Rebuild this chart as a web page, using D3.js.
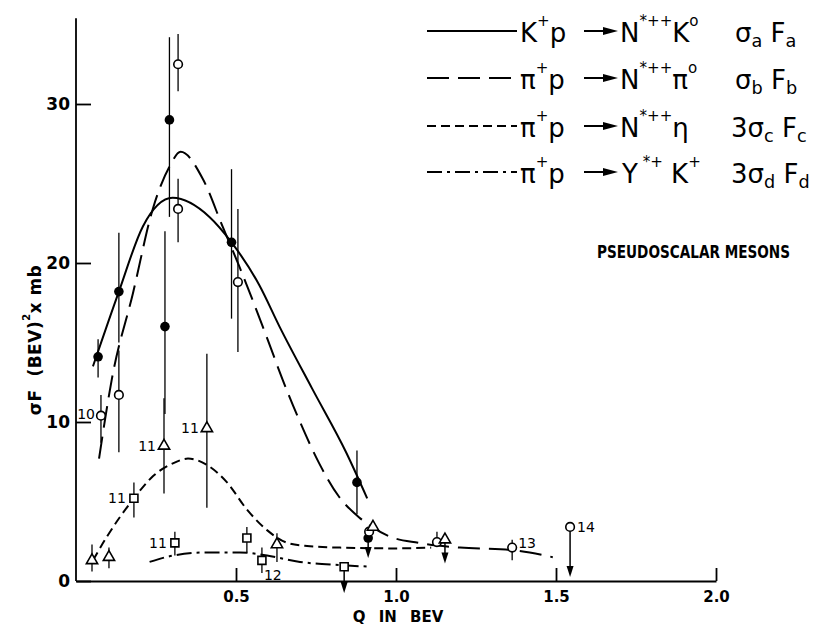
<!DOCTYPE html>
<html>
<head>
<meta charset="utf-8">
<script src="https://cdn.jsdelivr.net/npm/d3@7"></script>
<style>
  body { margin: 0; background: #fff; }
  text { font-family: "DejaVu Sans", sans-serif; fill: #000; }
</style>
</head>
<body>
<div id="chart"></div>
<script>
// values: Q in BEV, sigma*F in (BEV)^2 x mb

// fitted curves
var kCurve = [[0.053,13.5],[0.134,18.2],[0.209,22.3],[0.302,24.1],[0.417,22.9],[0.486,21.3],
  [0.573,18.6],[0.636,16.0],[0.738,12.1],[0.844,8.1],[0.910,5.2]];
var piCurve = [[0.072,7.7],[0.112,12.7],[0.178,18.1],[0.240,23.4],[0.293,26.1],[0.327,27.0],
  [0.396,25.3],[0.458,22.3],[0.510,19.8],[0.595,15.4],[0.645,12.7],[0.698,10.1],[0.760,7.4],
  [0.822,5.3],[0.885,4.0],[0.925,3.4],[0.980,2.8],[1.070,2.4],[1.200,2.1],[1.360,1.95],[1.490,1.5]];
var etaCurve = [[0.053,1.3],[0.097,2.8],[0.181,5.2],[0.241,6.6],[0.303,7.4],[0.350,7.7],
  [0.409,7.3],[0.472,6.2],[0.534,4.5],[0.597,3.2],[0.660,2.4],[0.722,2.2],[0.825,2.1],
  [1.000,2.05],[1.110,2.1]];
var yCurve = [[0.230,1.2],[0.303,1.6],[0.409,1.8],[0.512,1.8],[0.597,1.6],[0.700,1.2],
  [0.825,1.0],[0.920,0.9]];

// points: q, value, error low, error high, upper-limit arrow to, reference
var filledPts = [
  [0.069, 14.1, 12.8, 15.2],
  [0.134, 18.2, 15.0, 21.9],
  [0.278, 16.0, 10.5, 22.0],
  [0.292, 29.0, 22.9, 34.2],
  [0.486, 21.3, 16.5, 25.9],
  [0.878, 6.2, 4.2, 8.2],
  [0.913, 2.7, null, null, 1.45]
];
var openPts = [
  [0.078, 10.4, 8.7, 11.7, null, "10"],
  [0.134, 11.7, 8.1, 14.5],
  [0.319, 32.5, 30.8, 34.4],
  [0.319, 23.4, 21.3, 25.3],
  [0.506, 18.8, 14.4, 23.4],
  [0.916, 3.1],
  [1.128, 2.45, 2.45, 3.1],
  [1.363, 2.1, 1.3, 2.6, null, "13"],
  [1.544, 3.4, null, null, 0.25, "14"]
];
var trianglePts = [
  [0.050, 1.3, 0.6, 2.3],
  [0.103, 1.5, 0.8, 2.1],
  [0.275, 8.5, 5.5, 11.5, null, "11"],
  [0.409, 9.6, 4.6, 14.3, null, "11"],
  [0.628, 2.3, 1.2, 3.0],
  [0.928, 3.4],
  [1.153, 2.6, null, null, 1.1]
];
var squarePts = [
  [0.181, 5.2, 4.0, 6.2, null, "11"],
  [0.309, 2.4, 1.6, 3.1, null, "11"],
  [0.534, 2.7, 1.8, 3.4],
  [0.581, 1.3, 0.5, 2.1, null, "12"],
  [0.838, 0.9, null, null, -0.75]
];

var xTicks = [0.5, 1.0, 1.5, 2.0];
var yTicks = [0, 10, 20, 30];
var yMax = 35.4;

// legend text: [text, 1 = superscript, -1 = subscript]
var reactionIn = [
  [["K"], ["+", 1], ["p"]],
  [["π"], ["+", 1], ["p"]],
  [["π"], ["+", 1], ["p"]],
  [["π"], ["+", 1], ["p"]]
];
var reactionOut = [
  [["N"], ["*++", 1], ["K"], ["o", 1]],
  [["N"], ["*++", 1], ["π"], ["o", 1]],
  [["N"], ["*++", 1], ["η"]],
  [["Y"], [" *+", 1], [" K"], ["+", 1]]
];
var weights = [
  [["σ"], ["a", -1], [" F"], ["a", -1]],
  [["σ"], ["b", -1], [" F"], ["b", -1]],
  [["3σ"], ["c", -1], [" F"], ["c", -1]],
  [["3σ"], ["d", -1], [" F"], ["d", -1]]
];
var yTitle = [["σF  (BEV)"], ["2", 1], ["x mb"]];

var width = 814, height = 629;

var svg = d3.select("#chart")
  .append("svg")
    .attr("width", width)
    .attr("height", height);

var x = d3.scaleLinear().domain([0, 2]).range([76, 716]);
var y = d3.scaleLinear().domain([0, 30]).range([581, 104]);

// dash styles for the four reactions
var dashes = [null, "22,9", "9,5", "15,5,3,5"];

// axes
var yAxis = svg.append("g")
    .attr("transform", "translate(" + x(0) + ",0)")
    .call(d3.axisLeft(y).tickValues(yTicks).tickSizeInner(-15).tickSizeOuter(0)
      .tickPadding(6).tickFormat(d3.format("d")));
yAxis.select(".domain").remove();
yAxis.selectAll("line").attr("stroke-width", 1.8);
yAxis.selectAll("text")
    .attr("font-size", 17).attr("font-weight", "bold")
    .attr("font-family", "DejaVu Sans, sans-serif");

svg.append("line")
    .attr("x1", x(0)).attr("x2", x(0))
    .attr("y1", y(0)).attr("y2", y(yMax))
    .attr("stroke", "#000").attr("stroke-width", 1.8);

var xAxis = svg.append("g")
    .attr("transform", "translate(0," + y(0) + ")")
    .call(d3.axisBottom(x).tickValues(xTicks).tickSizeInner(-13).tickSizeOuter(0)
      .tickPadding(10).tickFormat(d3.format(".1f")));
xAxis.select(".domain").attr("stroke-width", 1.8);
xAxis.selectAll("line").attr("stroke-width", 1.8);
xAxis.selectAll("text")
    .attr("font-size", 15).attr("font-weight", "bold")
    .attr("font-family", "DejaVu Sans, sans-serif");

svg.append("text")
    .attr("x", 398).attr("y", 622)
    .attr("text-anchor", "middle")
    .attr("font-size", 15).attr("font-weight", "bold")
    .style("word-spacing", "8px")
    .text("Q IN BEV");

// rich text with super/subscripts
function addRich(parent, parts, size) {
  var shift = 0;
  parts.forEach(function(p) {
    var want = p[1] == 1 ? -0.62 * size : (p[1] == -1 ? 0.2 * size : 0);
    var fs = p[1] == 1 ? size * 0.58 : (p[1] == -1 ? size * 0.68 : size);
    parent.append("tspan")
      .attr("dy", want - shift)
      .attr("font-size", fs)
      .style("white-space", "pre")
      .text(p[0]);
    shift = want;
  });
  return parent;
}

var ty = svg.append("text")
    .attr("transform", "translate(41,340) rotate(-90)")
    .attr("text-anchor", "middle")
    .attr("font-size", 17).attr("font-weight", "bold")
    .style("letter-spacing", "0.5px")
    .style("white-space", "pre");
addRich(ty, yTitle, 17);

// curves
var line = d3.line()
    .x(function(d) { return x(d[0]); })
    .y(function(d) { return y(d[1]); })
    .curve(d3.curveMonotoneX);

[kCurve, piCurve, etaCurve, yCurve].forEach(function(c, i) {
  svg.append("path")
    .datum(c)
    .attr("fill", "none")
    .attr("stroke", "#000")
    .attr("stroke-width", 2)
    .attr("stroke-dasharray", dashes[i])
    .attr("d", line);
});

// error bars and upper limits
function drawBars(rows) {
  var withBar = rows.filter(function(d) { return d[2] != null; });
  svg.selectAll(null).data(withBar).enter()
    .append("line")
      .attr("x1", function(d) { return x(d[0]); })
      .attr("x2", function(d) { return x(d[0]); })
      .attr("y1", function(d) { return y(d[2]); })
      .attr("y2", function(d) { return y(d[3]); })
      .attr("stroke", "#000").attr("stroke-width", 1.3);

  var limits = rows.filter(function(d) { return d[4] != null; });
  svg.selectAll(null).data(limits).enter()
    .append("line")
      .attr("x1", function(d) { return x(d[0]); })
      .attr("x2", function(d) { return x(d[0]); })
      .attr("y1", function(d) { return y(d[1]); })
      .attr("y2", function(d) { return y(d[4]) - 8; })
      .attr("stroke", "#000").attr("stroke-width", 1.5);
  svg.selectAll(null).data(limits).enter()
    .append("path")
      .attr("d", function(d) {
        var cx = x(d[0]), cy = y(d[4]);
        return "M" + (cx - 3.5) + "," + (cy - 11) + "L" + (cx + 3.5) + "," + (cy - 11) + "L" + cx + "," + cy + "Z";
      })
      .attr("fill", "#000");
}

[filledPts, openPts, trianglePts, squarePts].forEach(drawBars);

// markers
svg.selectAll(".filled").data(filledPts).enter()
  .append("circle")
    .attr("cx", function(d) { return x(d[0]); })
    .attr("cy", function(d) { return y(d[1]); })
    .attr("r", 4.8)
    .attr("fill", "#000");

svg.selectAll(".open").data(openPts).enter()
  .append("circle")
    .attr("cx", function(d) { return x(d[0]); })
    .attr("cy", function(d) { return y(d[1]); })
    .attr("r", 4.3)
    .attr("fill", "#fff")
    .attr("stroke", "#000").attr("stroke-width", 1.6);

svg.selectAll(".tri").data(trianglePts).enter()
  .append("path")
    .attr("transform", function(d) { return "translate(" + x(d[0]) + "," + y(d[1]) + ")"; })
    .attr("d", d3.symbol(d3.symbolTriangle).size(55))
    .attr("fill", "#fff")
    .attr("stroke", "#000").attr("stroke-width", 1.6);

svg.selectAll(".sq").data(squarePts).enter()
  .append("path")
    .attr("transform", function(d) { return "translate(" + x(d[0]) + "," + y(d[1]) + ")"; })
    .attr("d", d3.symbol(d3.symbolSquare).size(64))
    .attr("fill", "#fff")
    .attr("stroke", "#000").attr("stroke-width", 1.6);

// reference numbers next to points
var refPlace = {
  "10": {dx: -6, dy: 3, anchor: "end"},
  "11": {dx: -8, dy: 5, anchor: "end"},
  "12": {dx: 2, dy: 20, anchor: "start"},
  "13": {dx: 6, dy: 0, anchor: "start"},
  "14": {dx: 7, dy: 5, anchor: "start"}
};
var refs = [].concat(filledPts, openPts, trianglePts, squarePts)
    .filter(function(d) { return d[5]; });
svg.selectAll(".ref").data(refs).enter()
  .append("text")
    .attr("x", function(d) { return x(d[0]) + refPlace[d[5]].dx; })
    .attr("y", function(d) { return y(d[1]) + refPlace[d[5]].dy; })
    .attr("text-anchor", function(d) { return refPlace[d[5]].anchor; })
    .attr("font-size", 14)
    .text(function(d) { return d[5]; });

// legend
var rowY = [31, 78, 126, 172];
rowY.forEach(function(ly, i) {
  svg.append("line")
    .attr("x1", 427).attr("x2", 517)
    .attr("y1", ly).attr("y2", ly)
    .attr("stroke", "#000").attr("stroke-width", 2)
    .attr("stroke-dasharray", dashes[i]);

  addRich(svg.append("text").attr("x", 520).attr("y", ly + 11).attr("font-size", 26), reactionIn[i], 26);

  svg.append("line")
    .attr("x1", 584).attr("x2", 606)
    .attr("y1", ly).attr("y2", ly)
    .attr("stroke", "#000").attr("stroke-width", 2);
  svg.append("path")
    .attr("d", "M603," + (ly - 4) + "L618," + ly + "L603," + (ly + 4) + "Z")
    .attr("fill", "#000");

  addRich(svg.append("text").attr("x", i == 3 ? 622 : 620).attr("y", ly + 11).attr("font-size", 26), reactionOut[i], 26);
  addRich(svg.append("text").attr("x", i < 2 ? 735 : 731).attr("y", ly + 11).attr("font-size", 26), weights[i], 26);
});

svg.append("text")
    .attr("transform", "translate(597,258) scale(1,1.2)")
    .attr("font-family", "Liberation Sans, Arial, sans-serif")
    .attr("font-size", 15).attr("font-weight", "bold")
    .attr("textLength", 193).attr("lengthAdjust", "spacingAndGlyphs")
    .text("PSEUDOSCALAR MESONS");
</script>
</body>
</html>
